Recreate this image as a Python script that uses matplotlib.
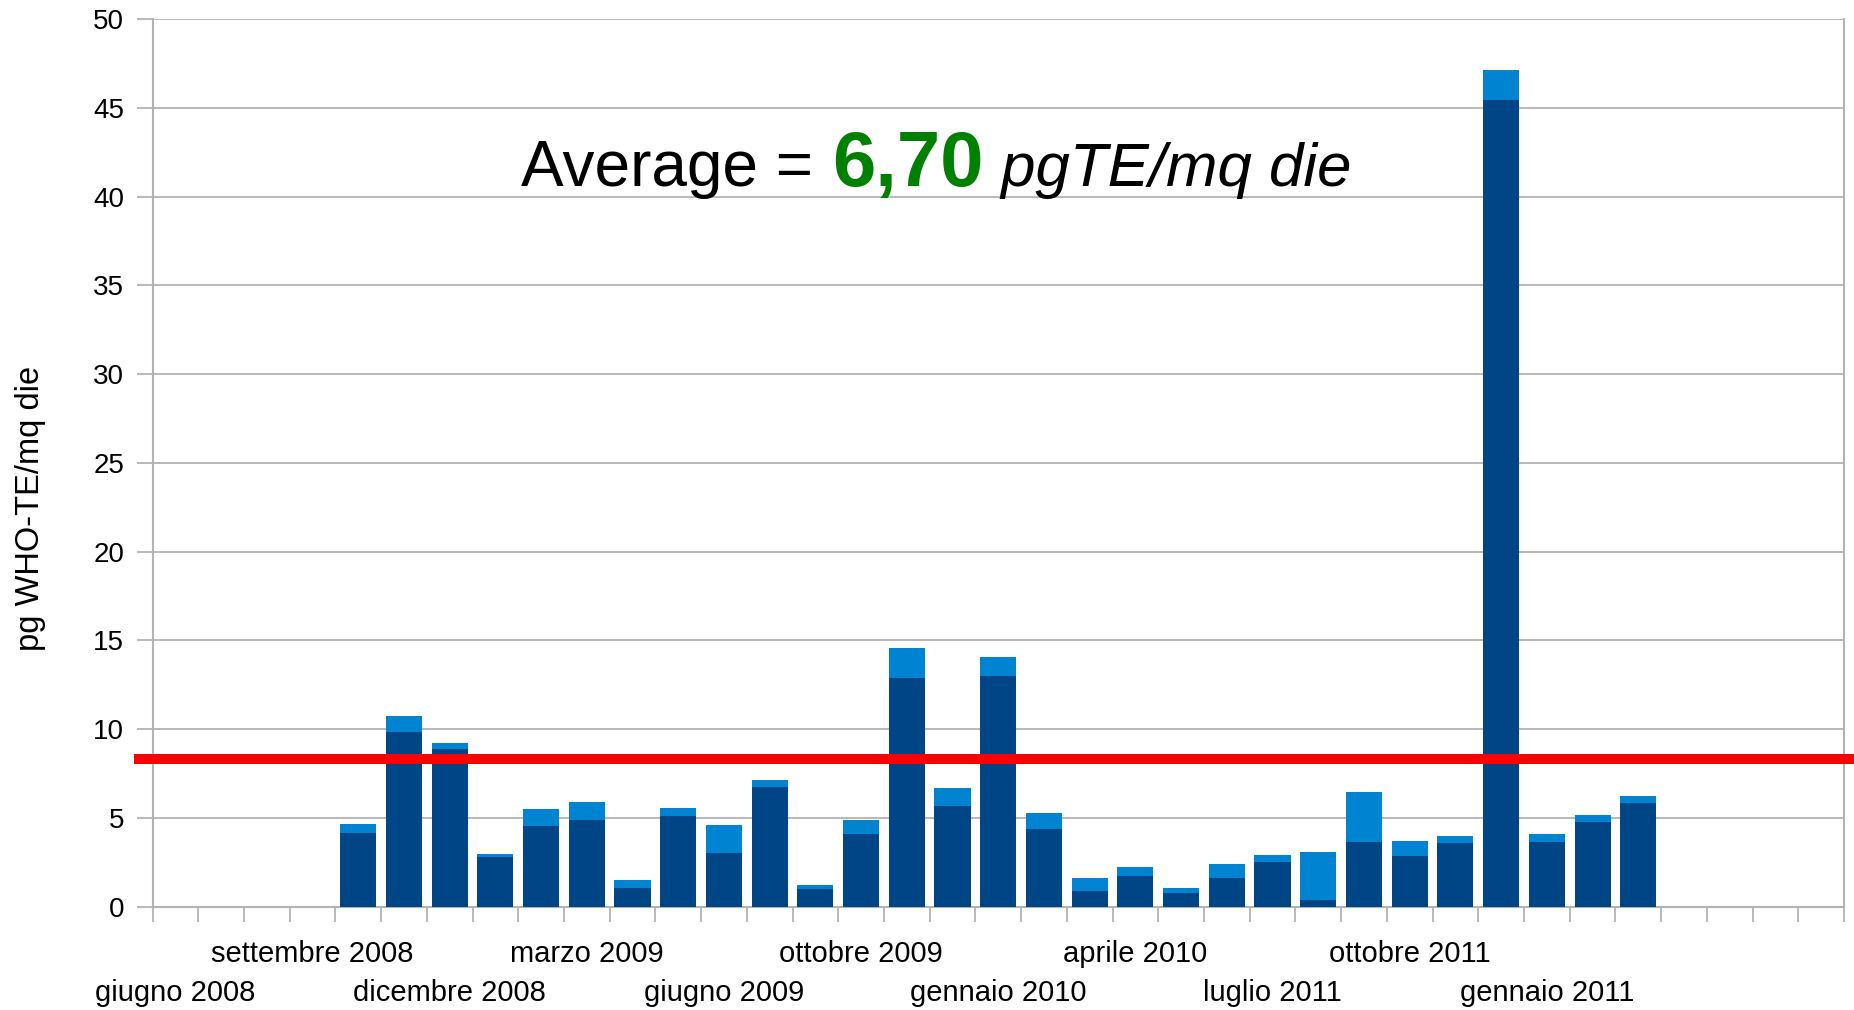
import matplotlib
matplotlib.use("Agg")
import matplotlib.pyplot as plt
import matplotlib.transforms as mtransforms
import numpy as np

plt.rcParams['font.family'] = ['Liberation Sans', 'DejaVu Sans']

# ---- data ----
n_categories = 37
label_positions = [0, 3, 6, 9, 12, 15, 18, 21, 24, 27, 30]
label_texts = ["giugno 2008", "settembre 2008", "dicembre 2008", "marzo 2009",
               "giugno 2009", "ottobre 2009", "gennaio 2010", "aprile 2010",
               "luglio 2011", "ottobre 2011", "gennaio 2011"]
bar_positions = list(range(4, 33))
dark_values = [4.16, 9.85, 8.89, 2.81, 4.55, 4.89, 1.05, 5.12, 3.04, 6.74,
               1.01, 4.10, 12.88, 5.69, 13.00, 4.39, 0.90, 1.74, 0.79, 1.63,
               2.53, 0.38, 3.65, 2.86, 3.59, 45.42, 3.65, 4.78, 5.84]
total_values = [4.66, 10.75, 9.23, 2.97, 5.51, 5.90, 1.50, 5.57, 4.61, 7.13,
                1.24, 4.89, 14.57, 6.70, 14.06, 5.29, 1.63, 2.25, 1.07, 2.42,
                2.93, 3.07, 6.46, 3.70, 3.98, 47.11, 4.10, 5.17, 6.24]
limit_value = 8.34
y_ticks = list(range(0, 51, 5))
y_label = "pg WHO-TE/mq die"

dark_color = "#004586"
light_color = "#0084d1"
grid_color = "#b3b3b3"

W, H = 1854, 1010
fig = plt.figure(figsize=(W / 100, H / 100), dpi=100)
ax = fig.add_axes([152.5 / W, 1 - 906.7 / H, (1844 - 152.5) / W, (906.7 - 19.2) / H])

dark = np.array(dark_values)
light = np.array(total_values) - dark
ax.bar(bar_positions, dark, width=0.79, color=dark_color, zorder=3)
ax.bar(bar_positions, light, bottom=dark, width=0.79, color=light_color, zorder=3)

ax.set_xlim(-0.5, n_categories - 0.5)
ax.set_ylim(0, 50)

# y axis
ax.set_yticks(y_ticks)
ax.set_yticklabels([str(v) for v in y_ticks])
ax.yaxis.grid(True, color=grid_color, linewidth=1.3, zorder=0)
ax.tick_params(axis='y', direction='out', length=11.5, width=1.3, color=grid_color,
               labelsize=20, pad=9, labelcolor='black')
ax.set_ylabel(y_label, fontsize=23.5)
ax.yaxis.set_label_coords(-0.063, 0.449)

# x axis: minor ticks at category boundaries, labels staggered on two rows
ax.set_xticks(np.arange(-0.5, n_categories, 1.0), minor=True)
upper_pos = label_positions[1::2]
upper_txt = label_texts[1::2]
lower_pos = label_positions[0::2]
lower_txt = label_texts[0::2]
ax.set_xticks(upper_pos)
ax.set_xticklabels(upper_txt)
ax.tick_params(axis='x', which='major', length=0, labelsize=21, pad=24)
ax.tick_params(axis='x', which='minor', direction='out', length=11, width=1.3, color=grid_color)

sec = ax.secondary_xaxis('bottom')
sec.set_xticks(lower_pos)
sec.set_xticklabels(lower_txt)
sec.tick_params(axis='x', length=0, labelsize=21, pad=52)
sec.spines['bottom'].set_visible(False)

for s in ['left', 'right', 'bottom']:
    ax.spines[s].set_color(grid_color)
    ax.spines[s].set_linewidth(1.5)
ax.spines['top'].set_visible(False)

# limit line extending past the axes
trans = mtransforms.blended_transform_factory(ax.transAxes, ax.transData)
x0 = (134 - 152.5) / (1844 - 152.5)
x1 = (1854 - 152.5) / (1844 - 152.5)
ax.plot([x0, x1], [limit_value, limit_value], color='#ff0000', linewidth=7.2,
        transform=trans, clip_on=False, zorder=4, solid_capstyle='butt')

# title made of three pieces
fig.canvas.draw()
renderer = fig.canvas.get_renderer()
ybase = 1 - 186 / H
t1 = fig.text(521 / W, ybase, "Average = ", fontsize=46, va='baseline', ha='left')
bb = t1.get_window_extent(renderer)
t2 = fig.text(bb.x1 / W + 0.001, ybase, "6,70", fontsize=56, fontweight='bold', color='#008000',
              va='baseline', ha='left')
bb = t2.get_window_extent(renderer)
t3 = fig.text(bb.x1 / W, ybase, " pgTE/mq die", fontsize=44.5, style='italic',
              va='baseline', ha='left')

fig.savefig("out.png", dpi=100, facecolor='white')
